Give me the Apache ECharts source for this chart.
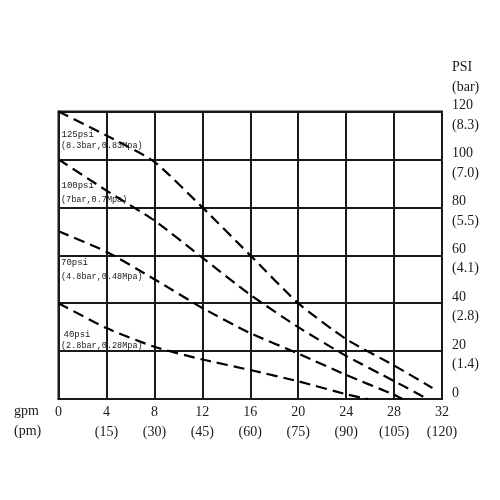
<!DOCTYPE html>
<html>
<head>
<meta charset="utf-8">
<script src="https://cdn.jsdelivr.net/npm/echarts@6/dist/echarts.min.js"></script>
<style>html,body{margin:0;padding:0;background:#fff}#c{width:500px;height:500px}</style>
</head>
<body>
<div id="c"></div>
<script>
// Axis ticks
const gpmTicks = [0, 4, 8, 12, 16, 20, 24, 28, 32];
const lpmTicks = ['', '15', '30', '45', '60', '75', '90', '105', '120'];
const psiTicks = [0, 20, 40, 60, 80, 100, 120];
const barTicks = ['', '1.4', '2.8', '4.1', '5.5', '7.0', '8.3'];

// Curves (flow gpm, pressure psi)
const flow125 = [0, 4, 8, 12, 16, 20, 24, 28, 31.2];
const psi125  = [120, 110, 99, 80, 60, 40, 25, 14, 4.6];
const flow100 = [0, 4, 8, 12, 16, 20, 24, 28, 30.8];
const psi100  = [100, 87, 74.5, 59, 43.5, 30, 18, 7.5, 0];
const flow70  = [0, 4, 8, 12, 16, 20, 24, 28, 28.7];
const psi70   = [70, 61.5, 50, 38, 27.5, 19, 10, 1.8, 0];
const flow40  = [0, 4, 8, 12, 16, 20, 24, 25.8];
const psi40   = [40, 29.6, 21.8, 16.5, 12.1, 7.4, 2, 0];

// Curve annotations
const annotations = [
  ['125psi', '(8.3bar,0.83Mpa)'],
  ['100psi', '(7bar,0.7Mpa)'],
  ['70psi', '(4.8bar,0.48Mpa)'],
  ['40psi', '(2.8bar,0.28Mpa)']
];

const pairs = (xs, ys) => xs.map((x, i) => [x, ys[i]]);
const INK = '#1a1a1a';
const serif = '"Liberation Serif", "DejaVu Serif", serif';
const mono = '"Liberation Mono", "DejaVu Sans Mono", monospace';

const chart = echarts.init(document.getElementById('c'), null, {renderer: 'canvas'});

const curveSeries = [[flow125, psi125], [flow100, psi100], [flow70, psi70], [flow40, psi40]].map(([f, p]) => ({
  type: 'line',
  data: pairs(f, p),
  symbol: 'none',
  smooth: 0.2,
  lineStyle: {color: '#000', width: 2.2, type: [11, 6]},
  silent: true,
  z: 3
}));

// annotation layout: [x, y-first-line-center, y-second-line-center]
const annPos = [[61.5, 135, 146.5], [61.5, 186.5, 200], [61, 263.5, 277.5], [63.5, 335, 346.5]];
const annGraphics = [];
annotations.forEach((a, i) => {
  const p = annPos[i];
  annGraphics.push({type: 'text', left: p[0], top: p[1] - 5, z: 10,
    style: {text: a[0], font: '9px ' + mono, fill: INK}});
  annGraphics.push({type: 'text', left: 61, top: p[2] - 5, z: 10,
    style: {text: a[1], font: '8.5px ' + mono, fill: INK}});
});

chart.setOption({
  animation: false,
  backgroundColor: '#fff',
  grid: {left: 58.5, right: 58, top: 111.5, bottom: 101, show: true, borderColor: INK, borderWidth: 2, backgroundColor: 'transparent'},
  xAxis: {
    type: 'value', min: 0, max: 32, interval: 4,
    axisLine: {show: true, lineStyle: {color: INK, width: 2}},
    axisTick: {show: false},
    splitLine: {show: true, lineStyle: {color: INK, width: 2}},
    axisLabel: {
      margin: 4, color: INK, fontFamily: serif, fontSize: 14, lineHeight: 19.5, align: 'center',
      showMinLabel: true, showMaxLabel: true,
      formatter: v => {
        const i = gpmTicks.indexOf(v);
        return v + (lpmTicks[i] ? '\n(' + lpmTicks[i] + ')' : '');
      }
    }
  },
  yAxis: {
    type: 'value', position: 'right', min: 0, max: 120, interval: 20,
    axisLine: {show: true, lineStyle: {color: INK, width: 2}},
    axisTick: {show: false},
    splitLine: {show: true, lineStyle: {color: INK, width: 2}},
    axisLabel: {
      margin: 10, color: INK, fontFamily: serif, fontSize: 14, lineHeight: 19.5, align: 'left',
      verticalAlign: 'middle', showMinLabel: true, showMaxLabel: true,
      rich: {
        s: {fontSize: 1, lineHeight: 7.5, height: 7.5},
        a: {fontFamily: serif, fontSize: 14, lineHeight: 19.5, color: INK}
      },
      formatter: v => {
        const i = psiTicks.indexOf(v);
        return '{s| }\n{a|' + v + '}\n{a|' + (barTicks[i] ? '(' + barTicks[i] + ')' : ' ') + '}';
      }
    }
  },
  graphic: [
    {type: 'text', left: 452, top: 57, style: {text: 'PSI\n(bar)', font: '14px ' + serif, lineHeight: 20, fill: INK}},
    {type: 'text', left: 14, top: 402, style: {text: 'gpm\n(pm)', font: '14px ' + serif, lineHeight: 19.5, fill: INK, align: 'center'}}
  ].concat(annGraphics),
  series: curveSeries
});
</script>
</body>
</html>
